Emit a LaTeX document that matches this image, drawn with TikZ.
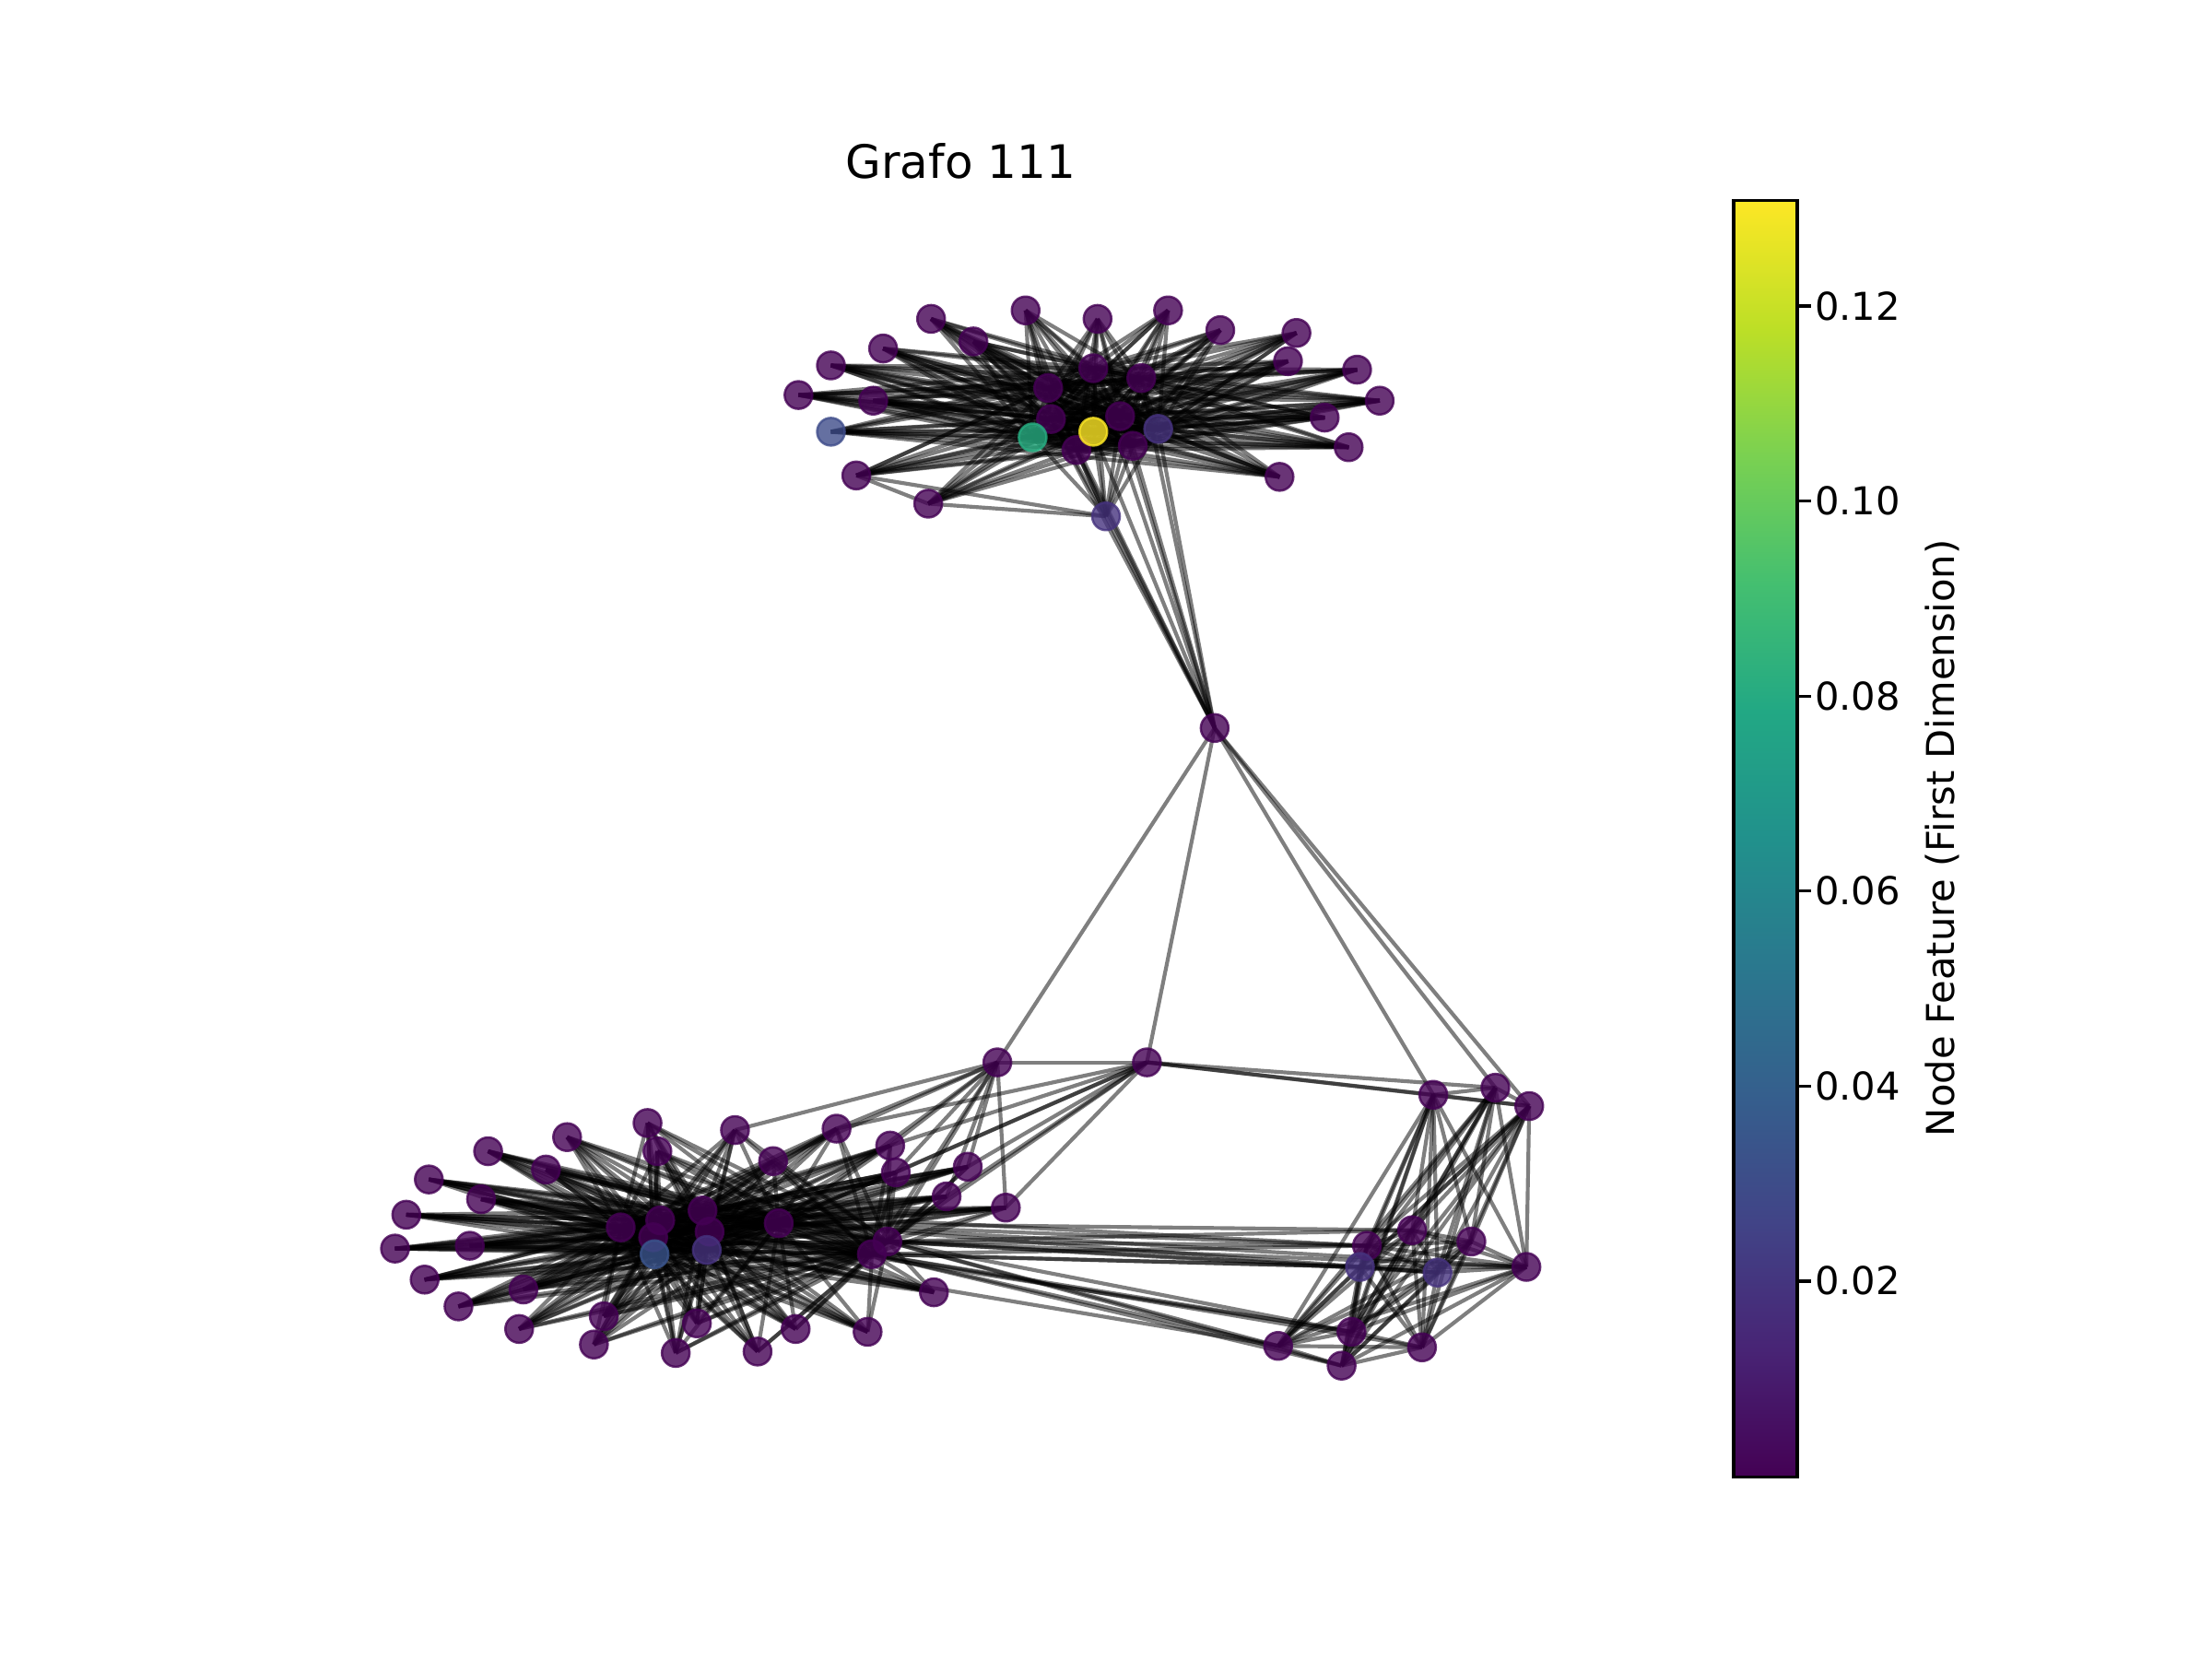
\documentclass[tikz,border=0pt]{standalone}
\usepackage{fontspec}
\setmainfont{DejaVu Sans}
\usetikzlibrary{backgrounds}
\definecolor{vir0}{HTML}{440154}
\definecolor{vir1}{HTML}{482475}
\definecolor{vir2}{HTML}{414487}
\definecolor{vir3}{HTML}{355F8D}
\definecolor{vir4}{HTML}{2A788E}
\definecolor{vir5}{HTML}{21918C}
\definecolor{vir6}{HTML}{22A884}
\definecolor{vir7}{HTML}{44BF70}
\definecolor{vir8}{HTML}{7AD151}
\definecolor{vir9}{HTML}{BDDF26}
\definecolor{vir10}{HTML}{FDE725}
\definecolor{vyel}{HTML}{FDE725}
\definecolor{vgrn}{HTML}{27AD81}
\definecolor{vblu}{HTML}{3E4C8A}
\definecolor{vblu2}{HTML}{3A548C}
\definecolor{vbp}{HTML}{46337E}

\begin{document}
\begin{tikzpicture}[x=0.36735pt,y=-0.36735pt]
      \tikzset{gnode/.style={circle,inner sep=0pt,minimum size=7.2pt,line width=0.6pt,
        fill=#1,draw=#1,fill opacity=0.8,draw opacity=0.8},gnode/.default=vir0}
      \tikzset{link/.style={draw=black,opacity=0.5,line width=1pt}}
      \tikzset{ticklab/.style={anchor=west,font=\fontsize{10}{12}\selectfont,inner sep=0pt}}
      \useasboundingbox (0,0) rectangle (1568,1176);

      % title
      \node[font=\fontsize{12}{14}\selectfont] (title) at (681,114) {Grafo 111};

      % upper cluster
      \foreach \n/\x/\y in {1/660/226,2/727/220,3/778/226,4/828/220,5/865/234,6/919/236,
        7/690/242,8/626/247,9/589/259,10/566/280,11/619/284,13/607/337,14/658/357,
        16/907/338,17/956/317,18/939/296,19/978/284,20/962/262,21/913/256,
        22/775/261,23/809/268,24/743/275,25/745/297,26/794/295,29/763/319,30/803/316}
        \node[gnode] (t\n) at (\x,\y) {};
      \node[gnode=vblu] (t12) at (589,306) {};
      \node[gnode=vbp] (t15) at (784,366) {};
      \node[gnode=vgrn] (t27) at (732,310) {};
      \node[gnode=vyel] (t28) at (775,306) {};
      \node[gnode=vbp] (t31) at (821,304) {};

      % middle and bridges
      \node[gnode] (m0) at (861,516) {};
      \node[gnode] (b1) at (707,753) {};
      \node[gnode] (b2) at (813,753) {};

      % lower left cluster
      \foreach \n/\x/\y in {1/459/796,2/521/801,3/593/800,4/402/806,5/346/816,6/466/816,
        7/387/829,8/548/823,9/631/812,10/635/831,11/686/827,12/304/836,13/341/850,
        14/671/848,15/713/856,16/288/861,17/440/870,18/468/865,19/498/858,20/503/873,
        21/552/867,22/463/877,25/280/885,26/333/883,27/629/880,28/618/889,
        29/301/907,30/371/914,31/662/916,32/325/926,33/428/933,34/494/938,35/564/942,
        36/615/944,37/368/942,38/421/953,39/479/959,40/537/958}
        \node[gnode] (l\n) at (\x,\y) {};
      \node[gnode=vblu2] (l23) at (464,889) {};
      \node[gnode=vbp] (l24) at (501,886) {};

      % lower right cluster
      \foreach \n/\x/\y in {1/1016/776,2/1060/771,3/1084/784,4/1001/872,5/969/883,
        6/1043/880,9/1082/898,10/958/944,11/906/954,12/1008/955,13/951/968}
        \node[gnode] (r\n) at (\x,\y) {};
      \node[gnode=vbp] (r7) at (964,898) {};
      \node[gnode=vbp] (r8) at (1019,902) {};

      \begin{pgfonlayer}{background}
        % upper cluster edges
        \foreach \a in {1,...,21}
          \foreach \b in {22,...,31}
            \draw[link] (t\a.center) -- (t\b.center);
        \foreach \a [evaluate=\a as \s using int(\a+1)] in {22,...,30}
          \foreach \b in {\s,...,31}
            \draw[link] (t\a.center) -- (t\b.center);
        \foreach \a/\b in {10/19,10/20,9/17,12/16,12/17,13/14,13/15,14/15,11/18,8/16,1/16,9/19}
          \draw[link] (t\a.center) -- (t\b.center);
        \foreach \b in {15,22,23,24,25,26,28,29,30,31}
          \draw[link] (m0.center) -- (t\b.center);

        % middle
        \foreach \b in {b1,b2,r1,r2,r3}
          \draw[link] (m0.center) -- (\b.center);
        \draw[link] (b1.center) -- (b2.center);
        \foreach \b in {2,3,8,9,10,11,14,15,21,27,28}
          \draw[link] (b1.center) -- (l\b.center);
        \foreach \b in {3,9,10,11,14,15,21,27}
          \draw[link] (b2.center) -- (l\b.center);
        \foreach \b in {r1,r2,r3}
          \draw[link] (b2.center) -- (\b.center);

        % lower left cluster edges
        \foreach \a in {1,...,16,25,26,29,30,31,32,33,34,35,36,37,38,39,40}
          \foreach \b in {17,18,19,20,21,22,23,24,27,28}
            \draw[link] (l\a.center) -- (l\b.center);
        \foreach \a/\b in {17/18,17/19,17/20,17/21,17/22,17/23,17/24,18/19,18/20,18/21,
          18/22,18/23,18/24,19/20,19/21,19/22,19/23,19/24,20/21,20/22,20/23,20/24,
          21/22,21/23,21/24,22/23,22/24,23/24,27/28,21/27,21/28,24/27,20/28,19/27}
          \draw[link] (l\a.center) -- (l\b.center);

        % long edges to the right
        \foreach \a/\b in {27/5,27/7,27/4,27/8,27/9,27/11,27/10,28/5,28/7,28/12,28/11,
          28/13,21/4,21/5,21/8,21/9,24/7,24/11,20/10,19/5,27/13,28/10}
          \draw[link] (l\a.center) -- (r\b.center);

        % lower right cluster edges
        \draw[link] (r1.center) -- (r2.center);
        \draw[link] (r1.center) -- (r3.center);
        \draw[link] (r2.center) -- (r3.center);
        \foreach \a in {1,2,3}
          \foreach \b in {4,...,13}
            \draw[link] (r\a.center) -- (r\b.center);
        \foreach \a [evaluate=\a as \s using int(\a+1)] in {4,...,12}
          \foreach \b in {\s,...,13}
            \draw[link] (r\a.center) -- (r\b.center);
      \end{pgfonlayer}

      % colour bar
      \foreach \i [evaluate=\i as \j using int(\i+1)] in {0,...,9}
        \shade[bottom color=vir\i,top color=vir\j]
          (1229,{1047-90.5*\i}) rectangle (1274,{1047-90.5*\j});
      \draw[line width=0.8pt] (1229,142) rectangle (1274,1047);
      \foreach \v/\y in {0.02/908,0.04/769.8,0.06/631.6,0.08/493.4,0.10/355.2,0.12/217} {
        \draw[line width=0.8pt] (1274,\y) -- (1283.5,\y);
        \node[ticklab] at (1286,\y) {\v};
      }
      \node[rotate=90,font=\fontsize{10}{12}\selectfont] (cblabel) at (1377,594) {Node Feature (First Dimension)};
\end{tikzpicture}
\end{document}
